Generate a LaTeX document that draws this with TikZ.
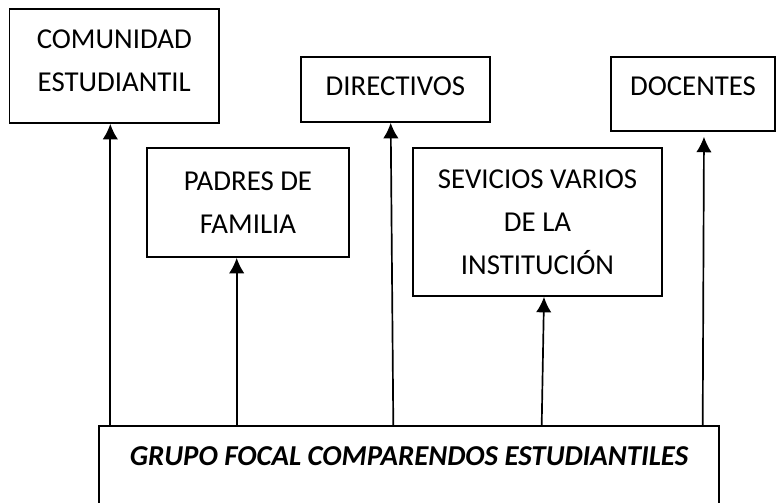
\documentclass[tikz,border=0pt]{standalone}
\usepackage{fontspec}
\setmainfont{Carlito}
\usepackage{tikz}
\usetikzlibrary{arrows.meta}
\usetikzlibrary{positioning}
\tikzset{>={Latex[length=11pt,width=11pt]}}

\begin{document}
\begin{tikzpicture}[x=0.025cm, y=0.025cm, caja/.style={rectangle, draw=black, line width=1.2pt, inner sep=0pt, align=center, font=\fontsize{20.5}{30.5}\selectfont}, flecha/.style={->, line width=1.2pt}]
		\useasboundingbox (0,0) rectangle (777,502);
		\clip (0,0) rectangle (777,502);
		\node[caja, minimum width=5.24cm, minimum height=2.85cm] (comunidad) at (114.25,436) {COMUNIDAD\\ESTUDIANTIL\\[-23.5pt]};
		\node[caja, minimum width=4.725cm, minimum height=1.625cm, text depth=5pt] (directivos) at (395.5,412.5) {DIRECTIVOS};
		\node[caja, minimum width=4.1cm, minimum height=1.85cm, text depth=11.4pt] (docentes) at (693,408) {DOCENTES};
		\node[caja, minimum width=5.05cm, minimum height=2.725cm] (padres) at (248,299.5) {PADRES DE\\FAMILIA};
		\node[caja, minimum width=6.225cm, minimum height=3.7cm] (servicios) at (537.5,280) {SEVICIOS VARIOS\\DE LA\\INSTITUCIÓN};
		\node[caja, anchor=north, minimum width=15.5cm, text height=28.5pt, text depth=60pt, font=\fontsize{20.5}{30.5}\selectfont\bfseries\itshape] (grupo) at (409,77) {GRUPO FOCAL COMPARENDOS ESTUDIANTILES};

		\draw[flecha] (110.3,0 |- grupo.north) -- (110.3,0 |- comunidad.south);
		\draw[flecha] (236.7,0 |- grupo.north) -- (236.7,0 |- padres.south);
		\draw[flecha] (393.3,0 |- grupo.north) -- ([xshift=-0.12cm]directivos.south);
		\draw[flecha] (541.7,0 |- grupo.north) -- ([xshift=0.1625cm]servicios.south);
		\draw[flecha, shorten >=3.5pt] (702.7,0 |- grupo.north) -- ([xshift=0.275cm]docentes.south);
\end{tikzpicture}
\end{document}
